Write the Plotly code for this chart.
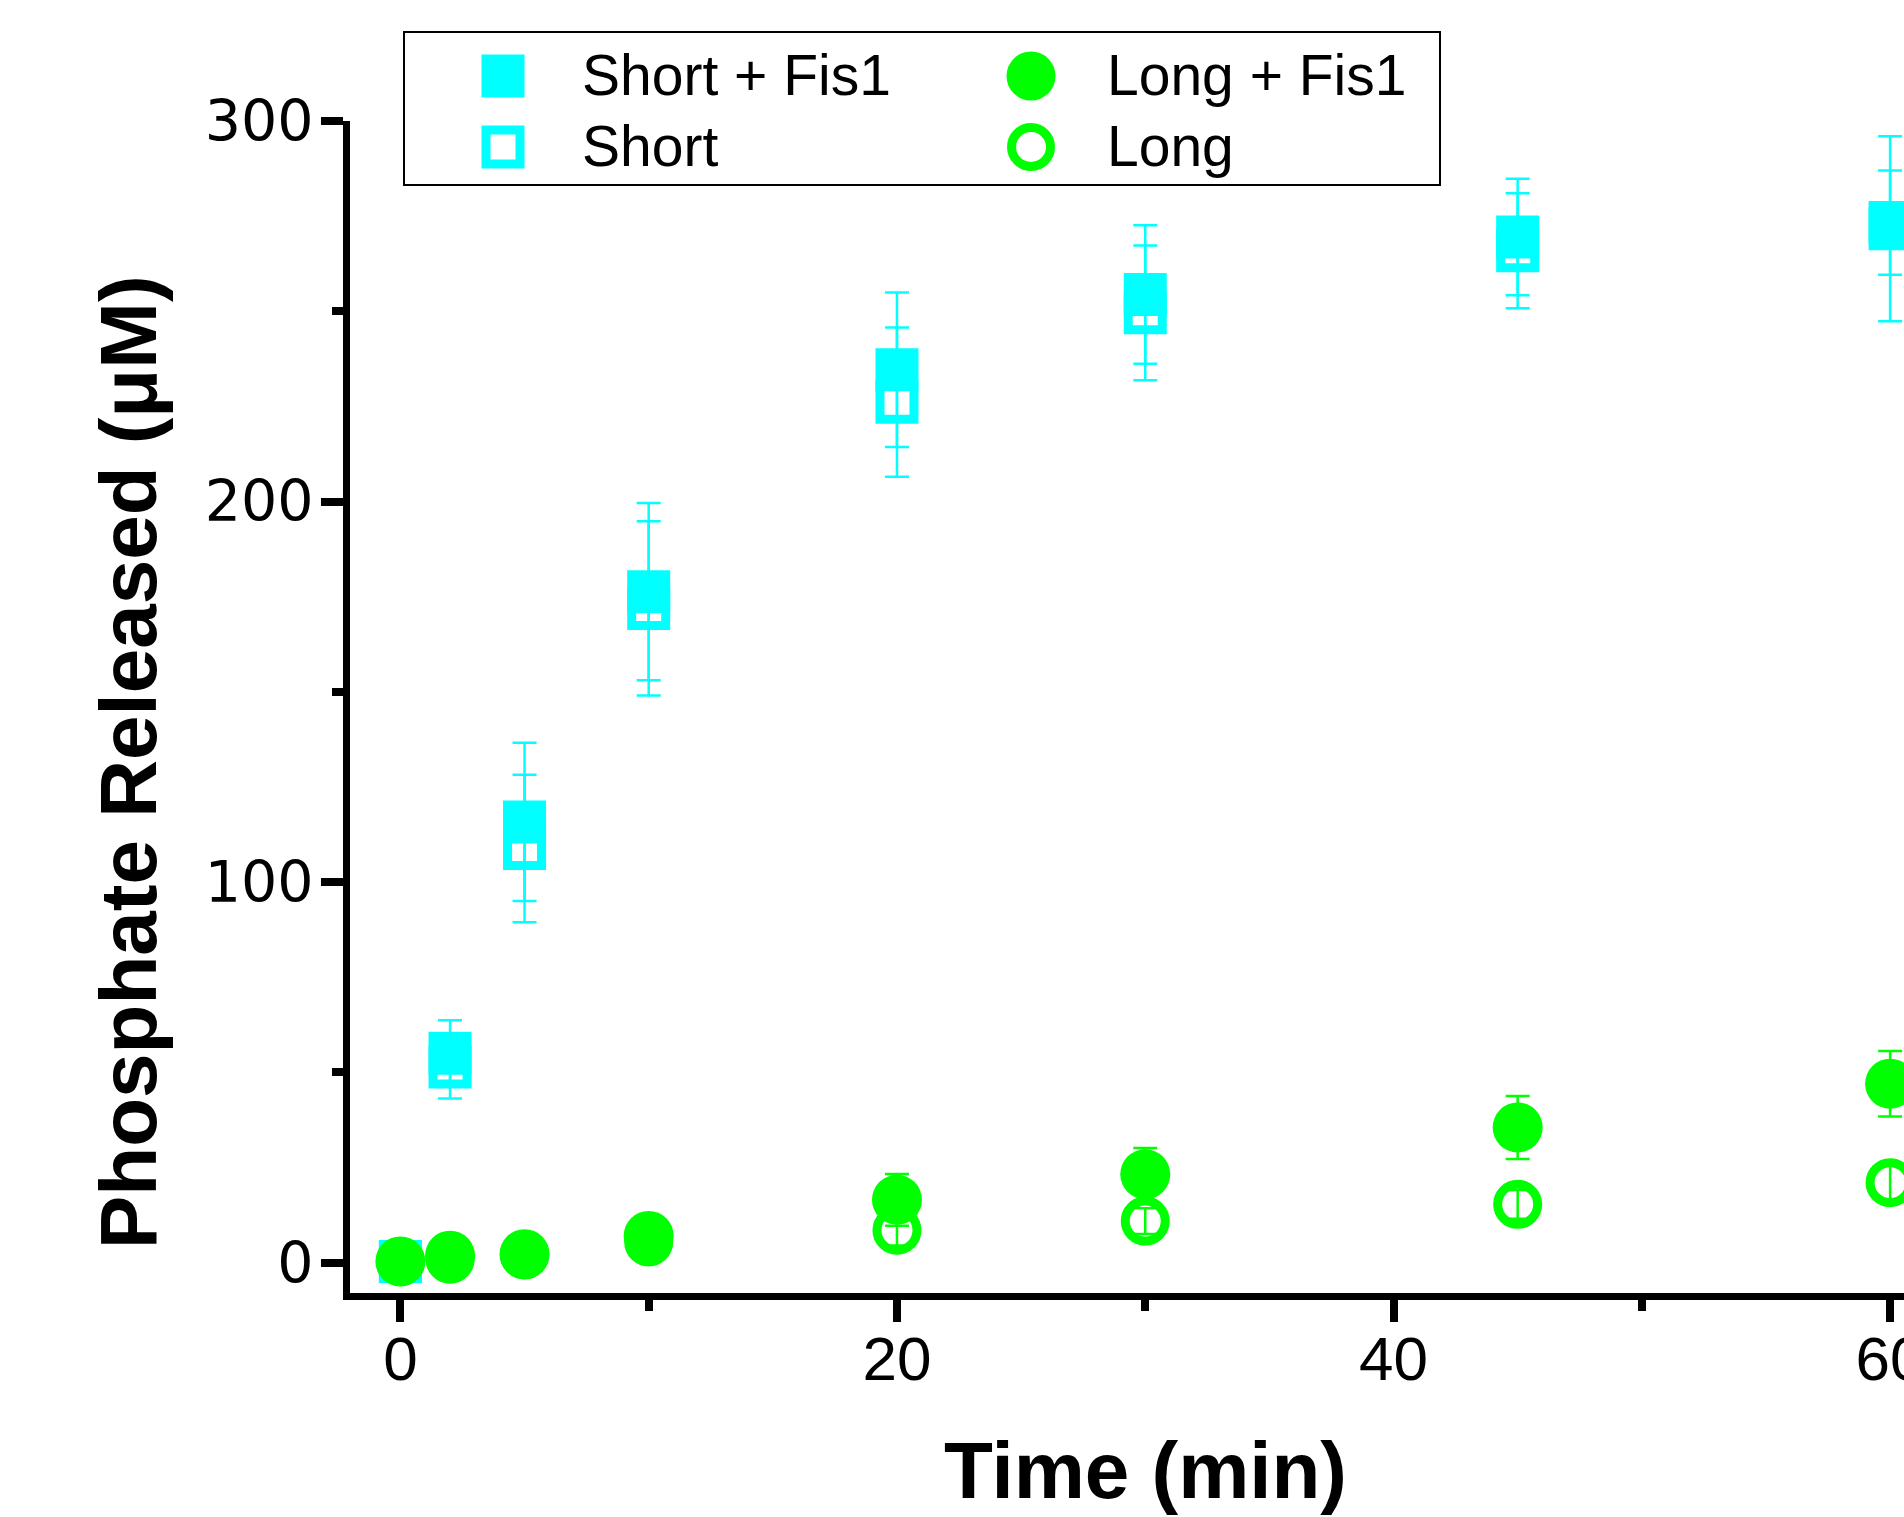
import plotly.graph_objects as go

# ---- data ----
time_min = [0, 2, 5, 10, 20, 30, 45, 60]

short_fis1 = [0.3, 55.0, 115.8, 176.3, 234.6, 254.4, 269.5, 271.7]
short_fis1_err = [1.0, 8.7, 20.8, 23.3, 20.3, 18.2, 15.3, 24.3]

short = [0.3, 51.4, 108.8, 171.9, 226.1, 249.6, 265.9, 273.3]
short_err = [1.0, 8.3, 19.4, 22.9, 19.6, 17.7, 15.1, 13.7]

long_fis1 = [0.3, 1.8, 2.2, 7.0, 16.5, 23.2, 35.5, 47.0]
long_fis1_err = [0.5, 0.8, 0.8, 1.2, 6.8, 6.9, 8.3, 8.6]

long_ = [0.2, 0.9, 2.0, 5.4, 8.5, 10.9, 15.3, 21.0]
long_err = [0.3, 0.5, 0.6, 1.0, 4.0, 3.4, 3.8, 5.0]

series_names = ["Short + Fis1", "Short", "Long + Fis1", "Long"]
x_ticks = [0, 20, 40, 60]
y_ticks = [0, 100, 200, 300]

CYAN = "#00FFFF"
GREEN = "#00FF00"

# ---- layout geometry (pixels) ----
FW, FH = 1904, 1517
L, T, R, B = 350, 121, 0, 224
W = FW - L - R
H = FH - T - B


def px(x):
    return (x - L) / W


def py(y):
    return (T + H - y) / H


fig = go.Figure()


def add(y, err, name, color, symbol, size, lw):
    fig.add_trace(go.Scatter(
        x=time_min, y=y, name=name, mode="markers",
        marker=dict(symbol=symbol, size=size, color=color,
                    line=dict(width=lw, color=color)),
        error_y=dict(type="data", array=err, visible=True, color=color,
                     thickness=2.5, width=12),
        showlegend=False, cliponaxis=True,
    ))


add(short, short_err, series_names[1], CYAN, "square-open", 34, 9)
add(short_fis1, short_fis1_err, series_names[0], CYAN, "square", 43, 0)
add(long_, long_err, series_names[3], GREEN, "circle-open", 40, 9)
add(long_fis1, long_fis1_err, series_names[2], GREEN, "circle", 50, 0)

# ---- legend drawn as layout decoration ----
shapes = [dict(type="rect", xref="paper", yref="paper",
               x0=px(404), x1=px(1440), y0=py(185), y1=py(32),
               line=dict(color="black", width=2), fillcolor="rgba(0,0,0,0)")]


def sym(kind, cx, cy, half, fill, lw, filled=True):
    return dict(type=kind, xref="paper", yref="paper",
                xsizemode="pixel", ysizemode="pixel",
                xanchor=px(cx), yanchor=py(cy),
                x0=-half, x1=half, y0=-half, y1=half,
                fillcolor=fill if filled else "rgba(0,0,0,0)",
                line=dict(color=fill, width=lw))


shapes.append(sym("rect", 503, 76, 21.5, CYAN, 0))
shapes.append(sym("rect", 503, 147, 17, CYAN, 9, filled=False))
shapes.append(sym("circle", 1031, 76, 24.5, GREEN, 0))
shapes.append(sym("circle", 1031, 147, 19.5, GREEN, 9, filled=False))

leg_font = dict(family="Liberation Sans, Arial, sans-serif", size=57, color="black")
annotations = []
for name, x, y in [(series_names[0], 580, 75), (series_names[1], 580, 146),
                   (series_names[2], 1105, 75), (series_names[3], 1105, 146)]:
    annotations.append(dict(text=name, xref="paper", yref="paper", x=px(x), y=py(y),
                            xanchor="left", yanchor="middle", showarrow=False, font=leg_font))

title_font = dict(family="Liberation Sans, Arial, sans-serif", size=80, color="black", weight="bold")
annotations.append(dict(text="<b>Phosphate Released (μM)</b>", xref="paper", yref="paper",
                        x=px(128), y=py(762), textangle=-90, xanchor="center", yanchor="middle",
                        showarrow=False, font=title_font))
annotations.append(dict(text="<b>Time (min)</b>", xref="paper", yref="paper",
                        x=px(1145), y=py(1470), xanchor="center", yanchor="middle",
                        showarrow=False, font=title_font))

fig.update_layout(
    width=FW, height=FH,
    margin=dict(l=L, r=R, t=T, b=B, pad=0),
    paper_bgcolor="white", plot_bgcolor="white",
    showlegend=False,
    shapes=shapes, annotations=annotations,
)

fig.update_xaxes(
    range=[-2.03, 60.56], tickvals=x_ticks, ticktext=[str(v) for v in x_ticks],
    showgrid=False, zeroline=False, showline=True, linecolor="black", linewidth=7,
    ticks="outside", ticklen=22, tickwidth=8, tickcolor="black",
    minor=dict(dtick=10, tick0=0, ticks="outside", ticklen=11, tickwidth=8, tickcolor="black"),
    tickfont=dict(family="Liberation Sans, Arial, sans-serif", size=62, color="black"),
    ticklabeloverflow="allow", ticklabelstandoff=-16,
    automargin=False, fixedrange=True,
)
fig.update_yaxes(
    range=[-8, 300], tickvals=y_ticks, ticktext=[str(v) for v in y_ticks],
    showgrid=False, zeroline=False, showline=True, linecolor="black", linewidth=7,
    ticks="outside", ticklen=22, tickwidth=8, tickcolor="black",
    minor=dict(dtick=50, tick0=0, ticks="outside", ticklen=11, tickwidth=8, tickcolor="black"),
    tickfont=dict(family="DejaVu Sans, sans-serif", size=57, color="black"),
    ticklabelstandoff=-4,
    automargin=False, fixedrange=True,
)

fig.write_html(
    "out.html",
    config={"displayModeBar": False, "staticPlot": False},
    post_script="document.body.style.margin='0';document.body.style.padding='0';"
                "document.documentElement.style.overflow='hidden';",
)
